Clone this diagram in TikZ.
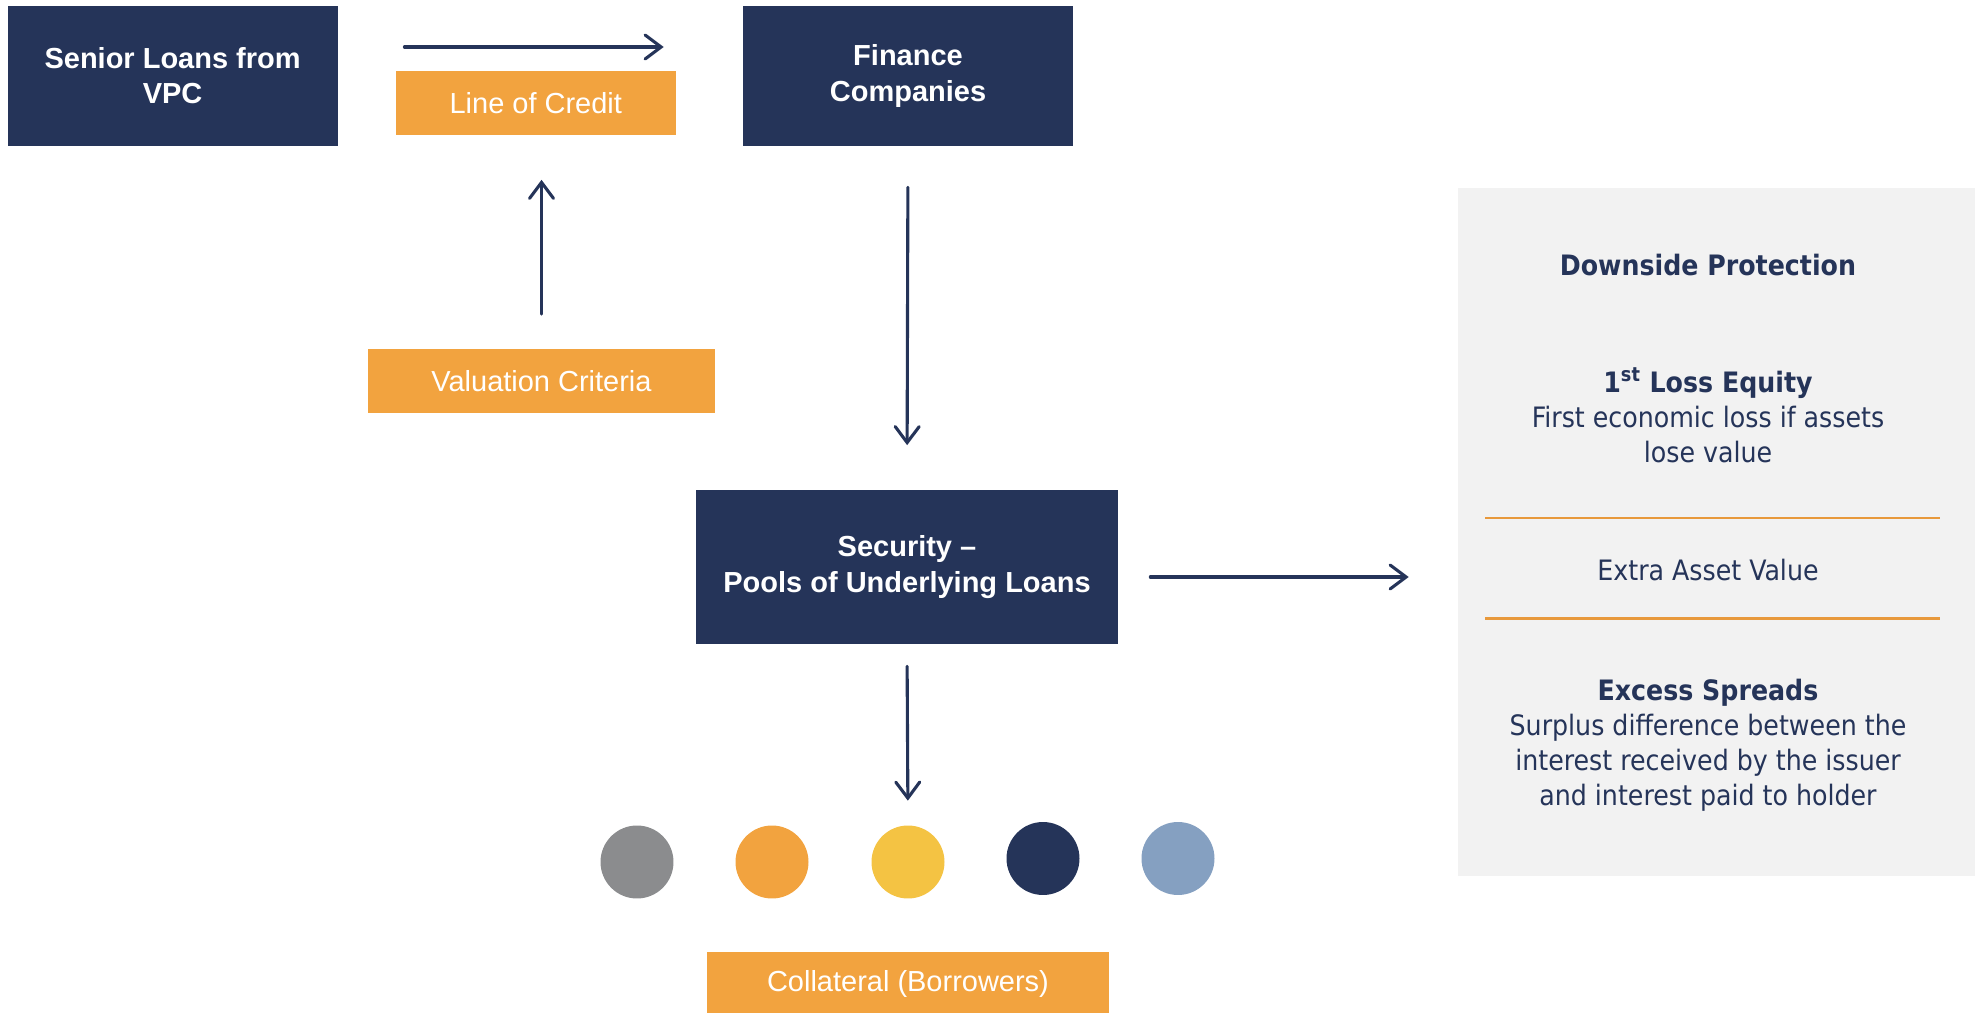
\documentclass[tikz,border=0pt]{standalone}
\usepackage{fontspec}
\setmainfont{Liberation Sans}
\newfontfamily\panelfont{DejaVu Sans Condensed}
\usetikzlibrary{arrows.meta}
\definecolor{navy}{HTML}{253459}
\definecolor{peach}{HTML}{F2A33F}
\definecolor{corn}{HTML}{F4C343}
\definecolor{slate}{HTML}{8B8C8E}
\definecolor{steel}{HTML}{85A0C1}
\definecolor{panelgray}{HTML}{F2F2F2}
\definecolor{rule}{HTML}{E8993C}
\tikzset{
	boxnode/.style = {align=center, inner sep=0pt, text centered, font=\fontsize{16.5}{20}\selectfont},
	darkbox/.style = {boxnode, fill=navy, text=white, font=\fontsize{16.5}{20}\selectfont\bfseries},
	orangebox/.style = {boxnode, fill=peach, text=white, minimum height=1.28cm},
	dot/.style = {circle, inner sep=0pt, minimum size=1.46cm},
	paneltext/.style = {align=center, inner sep=0pt, text=navy, font=\panelfont\fontsize{16}{20}\selectfont},
	flow/.style = {draw=navy, line width=0.062cm, line cap=round, -{Straight Barb[length=0.32cm, width=0.48cm, line cap=round]}}
}
\begin{document}
\begin{tikzpicture}[x=0.02cm, y=-0.02cm]
		\useasboundingbox (0,0) rectangle (1975,1013);
		% top row
		\node [darkbox, minimum width=6.6cm, minimum height=2.8cm] (senior) at (172.6,76) {Senior Loans from\\VPC};
		\node [darkbox, minimum width=6.6cm, minimum height=2.8cm] (finance) at (908,76) {Finance\\Companies};
		\node [orangebox, minimum width=5.61cm] (credit) at (535.8,103) {Line of Credit};
		\node [orangebox, minimum width=6.95cm] (valuation) at (541.5,381) {Valuation Criteria};
		% middle
		\node [darkbox, minimum width=8.44cm, minimum height=3.08cm] (security) at (907,567) {Security --\\Pools of Underlying Loans};
		\node [orangebox, minimum width=8.06cm] (collateral) at (908,984) {Collateral (Borrowers)};
		% borrowers
		\foreach \i/\c/\x/\y in {1/slate/637/862, 2/peach/772/862, 3/corn/908/862, 4/navy/1043/858.5, 5/steel/1178/858.5}
			\node [dot, fill=\c] (c\i) at (\x,\y) {};
		% downside protection panel
		\node [fill=panelgray, minimum width=10.34cm, minimum height=13.76cm] (panel) at (1716.5,532) {};
		\node [paneltext, font=\panelfont\fontsize{16}{20}\selectfont\bfseries] (downside) at (1708,265) {Downside Protection};
		\node [paneltext] (equity) at (1708,415) {\textbf{1\textsuperscript{st} Loss Equity}\\First economic loss if assets\\lose value};
		\node [paneltext] (extra) at (1708,570) {Extra Asset Value};
		\node [paneltext] (spreads) at (1708,745.5) {\textbf{Excess Spreads}\\Surplus difference between the\\interest received by the issuer\\and interest paid to holder};
		\draw [rule, line width=0.06cm] (1485,518) -- (1940,518);
		\draw [rule, line width=0.06cm] (1485,618) -- (1940,618);
		% arrows
		\draw [flow, shorten <=1.33cm, shorten >=1.58cm] ([yshift=0.58cm]senior.east) -- ([yshift=0.58cm]finance.west);
		\draw [flow, shorten <=0.69cm, shorten >=0.89cm] (valuation.north) -- (valuation.north |- credit.south);
		\draw [flow, shorten <=0.82cm, shorten >=0.89cm] (finance.south) -- (security.north);
		\draw [flow, shorten <=0.64cm, shorten >=0.98cm] ([yshift=-0.2cm]security.east) -- ([yshift=-0.2cm]security.east -| panel.west);
		\draw [flow, shorten <=0.44cm, shorten >=0.49cm] (security.south) -- (c3.north);
\end{tikzpicture}
\end{document}
